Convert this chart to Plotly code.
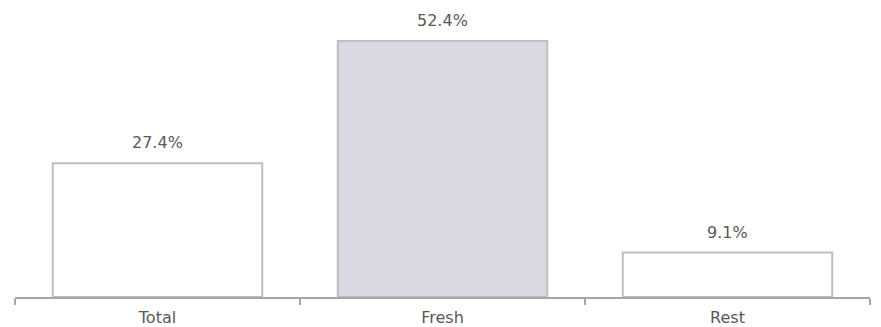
import plotly.graph_objects as go

categories = ["Total", "Fresh", "Rest"]
values = [27.4, 52.4, 9.1]
labels = ["27.4%", "52.4%", "9.1%"]
fill_colors = ["#ffffff", "#d9d9e3", "#ffffff"]

fig = go.Figure()
fig.add_trace(go.Bar(
    x=categories, y=values,
    marker=dict(color=fill_colors, line=dict(color="#bfbfbf", width=2)),
    hoverinfo="skip",
))
for c, v, t in zip(categories, values, labels):
    fig.add_annotation(x=c, y=v, text=t, showarrow=False, yanchor="bottom",
                       yshift=9, font=dict(family="DejaVu Sans", size=16, color="#595959"))

fig.update_layout(
    width=881, height=327,
    margin=dict(l=15, r=11, t=10, b=30),
    paper_bgcolor="white", plot_bgcolor="white",
    bargap=0.265,
    showlegend=False,
    font=dict(family="DejaVu Sans", size=16, color="#595959"),
    xaxis=dict(showline=True, linecolor="#a6a6a6", linewidth=2,
               ticks="outside", tickson="boundaries", ticklen=6, tickwidth=2,
               tickcolor="#a6a6a6", ticklabelstandoff=5, automargin=False,
               showgrid=False, tickfont=dict(size=16, color="#595959")),
    yaxis=dict(range=[0, 58.75], visible=False, showgrid=False, zeroline=False,
               automargin=False),
)
fig.write_html("out.html")
